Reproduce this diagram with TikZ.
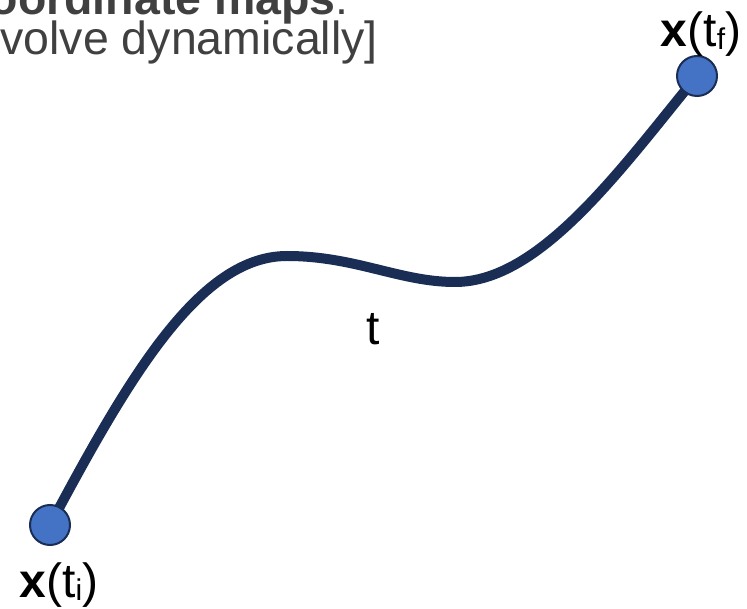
\documentclass[tikz,border=0pt]{standalone}
\usepackage{fontspec}
\setmainfont{Liberation Sans}
\usepackage{tikz}
\usetikzlibrary{positioning, backgrounds, calc}
\definecolor{pathnavy}{HTML}{1A2E55}
\definecolor{dotblue}{HTML}{4472C4}
\definecolor{headgray}{HTML}{404040}
\newcommand{\lowsub}[1]{\raisebox{-3pt}{\fontsize{30}{30}\selectfont #1}}
\tikzset{
	dotnode/.style={
			circle,
			draw=pathnavy,
			line width=2pt,
			fill=dotblue,
			minimum size=40pt,
			inner sep=0pt
		},
	labelnode/.style={
			inner sep=0pt,
			anchor=base,
			font=\fontsize{48}{58}\selectfont
		},
	headnode/.style={
			inner sep=0pt,
			anchor=base east,
			text=headgray,
			font=\fontsize{46.5}{52}\selectfont
		},
	trajectory/.style={
			draw=pathnavy,
			line width=10pt
		}
}
\begin{document}
\begin{tikzpicture}[x=1pt, y=-1pt]
\useasboundingbox (0,0) rectangle (747,609);
\clip (0,0) rectangle (747,609);

\node[headnode] (head1) at (349,15) {\textbf{oordinate maps}:};
\node[headnode] (head2) at (378,55) {volve dynamically]};

\node[dotnode] (ti) at (50,525) {};
\node[dotnode] (tf) at (697,76) {};
\coordinate (peak) at (287,256);
\coordinate (trough) at (455,282);

\begin{scope}[on background layer]
\draw[trajectory] (ti.center) .. controls (130,375) and (200,256) .. (peak)
	.. controls (355,256) and (400,282) .. (trough)
	.. controls (540,282) and (620,170) .. (tf.center);
\end{scope}

\node[labelnode] (lti) at (59,597) {\textbf{x}(t\lowsub{i})};
\node[labelnode] (ltf) at (701,47) {\textbf{x}(t\lowsub{f})};
\node[labelnode] (lt) at (373,345) {t};

\end{tikzpicture}
\end{document}
